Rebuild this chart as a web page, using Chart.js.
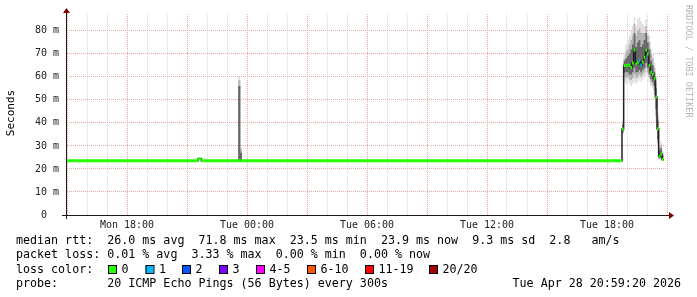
<!DOCTYPE html>
<html>
<head>
<meta charset="utf-8">
<script src="https://cdn.jsdelivr.net/npm/chart.js@4/dist/chart.umd.min.js"></script>
<style>
  html, body { margin: 0; padding: 0; background: #fff; }
  canvas { display: block; }
</style>
</head>
<body>
<canvas id="pingChart" width="697" height="297"></canvas>
<script>
// x axis is hours since Mon 15:00 (30 hours shown)
const tickHours = [3, 9, 15, 21, 27];
const tickLabels = ["Mon 18:00", "Tue 00:00", "Tue 06:00", "Tue 12:00", "Tue 18:00"];

// sample start hours; the long flat stretches are kept as one entry each
const sampleHours = [0, 6.55, 6.717, 8.56, 8.667, 8.75,
  27.75, 27.833, 27.917, 28, 28.083, 28.167, 28.25, 28.333, 28.417, 28.5, 28.583, 28.667, 28.75,
  28.833, 28.917, 29, 29.083, 29.167, 29.25, 29.333, 29.417, 29.5, 29.583, 29.667, 29.75];
const endHour = 29.833;

// median rtt in ms
const median = [23.6, 24.4, 23.6, 23.6, 23.6, 23.6,
  37.3, 64.9, 64.9, 65.2, 64.9, 64.1, 66.0, 71.6, 65.6, 66.3, 67.0, 65.2, 66.5,
  68.5, 71.6, 69.9, 64.9, 62.0, 61.0, 59.1, 51.2, 37.5, 25.5, 26.4, 24.1];
// index into lossColors for each sample
const lossIndex = [0, 0, 0, 0, 0, 0,
  0, 0, 0, 0, 0, 0, 0, 0, 0, 0, 1, 1, 0,
  0, 0, 0, 0, 0, 0, 0, 0, 0, 0, 0, 0];

// smoke (spread of the 20 pings), ms
const smokeMax = [23.9, 24.7, 23.9, 59.9, 29.3, 23.9,
  41, 70, 74, 76, 78, 80, 82, 86, 82, 85, 86, 84, 83, 82, 85, 80, 78, 72, 70, 66, 60, 45, 30, 32, 28];
const smokeMin = [23.3, 24.1, 23.3, 23.3, 23.3, 23.3,
  35, 58, 57, 58, 57, 56, 57, 58, 57, 58, 59, 58, 59, 60, 61, 60, 58, 56, 55, 52, 40, 30, 24, 24.5, 23.5];
const midHi = [23.9, 24.7, 23.9, 58.5, 28.5, 23.9,
  40, 68, 71, 72, 74, 76, 78, 83, 78, 80, 81, 79, 79, 79, 82, 78, 75, 70, 68, 64, 58, 43, 29, 30.5, 27];
const midLo = [23.3, 24.1, 23.3, 23.5, 23.5, 23.3,
  35.5, 60, 59.5, 60, 59, 58.5, 59.5, 61, 59.5, 60, 61, 60, 61, 62, 63.5, 62, 59.5, 57.5, 56.5, 54, 43, 31.5, 24.2, 24.8, 23.6];
const coreHi = [23.9, 24.7, 23.9, 56, 27, 23.9,
  39, 67, 68, 69, 70, 72, 74, 79, 73, 75, 76, 73, 74, 76, 79, 75, 72, 67, 65, 62, 55, 41, 28, 29, 26];
const coreLo = [23.3, 24.1, 23.3, 23.6, 23.6, 23.3,
  36, 62, 62, 62, 61, 61, 62, 64, 62, 62, 63, 62, 63, 64, 66, 64, 61, 59, 58, 56, 46, 33, 24.5, 25, 23.8];

const lossColors = ["#26ff00", "#00b8ff", "#0059ff", "#7e00ff", "#ff00ff", "#ff5500", "#ff0000", "#a10000"];
const lossLabels = ["0", "1", "2", "3", "4-5", "6-10", "11-19", "20/20"];

const legendLines = [
  "median rtt:  26.0 ms avg  71.8 ms max  23.5 ms min  23.9 ms now  9.3 ms sd  2.8   am/s",
  "packet loss: 0.01 % avg  3.33 % max  0.00 % min  0.00 % now",
  "loss color:",
  "probe:       20 ICMP Echo Pings (56 Bytes) every 300s"
];
const stampText = "Tue Apr 28 20:59:20 2026";

// each sample becomes a flat step: start point + end point
function steps(values) {
  const pts = [];
  values.forEach((v, i) => {
    const end = i + 1 < sampleHours.length ? sampleHours[i + 1] : endHour;
    pts.push({ x: sampleHours[i], y: v }, { x: end, y: v });
  });
  return pts;
}

function smokeBand(hi, lo, color, order) {
  return [
    { data: steps(hi), fill: "+1", backgroundColor: color, borderColor: "transparent", borderWidth: 0, pointRadius: 0, order: order },
    { data: steps(lo), fill: false, borderColor: "transparent", borderWidth: 0, pointRadius: 0, order: order + 1 }
  ];
}

const MONO = "'DejaVu Sans Mono', monospace";
const gridRed = "#eaa4a4";
const gridGray = "#d6d6d6";

const rrdDecor = {
  id: "rrdDecor",
  afterDraw(chart) {
    const { ctx, chartArea: a } = chart;
    ctx.save();
    // axes
    ctx.strokeStyle = "#1a1a1a";
    ctx.lineWidth = 1;
    ctx.beginPath();
    ctx.moveTo(62, a.bottom + 0.5);
    ctx.lineTo(a.right + 3, a.bottom + 0.5);
    ctx.moveTo(a.left - 0.5, a.bottom + 4);
    ctx.lineTo(a.left - 0.5, a.top - 2);
    ctx.stroke();
    // arrow heads
    ctx.fillStyle = "#7f0000";
    ctx.beginPath();
    ctx.moveTo(a.right + 2, a.bottom - 3);
    ctx.lineTo(a.right + 7, a.bottom + 0.5);
    ctx.lineTo(a.right + 2, a.bottom + 4);
    ctx.closePath();
    ctx.fill();
    ctx.beginPath();
    ctx.moveTo(a.left - 4, a.top - 1);
    ctx.lineTo(a.left - 0.5, a.top - 6);
    ctx.lineTo(a.left + 3, a.top - 1);
    ctx.closePath();
    ctx.fill();

    // y title
    ctx.fillStyle = "#000";
    ctx.font = "11px " + MONO;
    ctx.textAlign = "center";
    ctx.textBaseline = "middle";
    ctx.save();
    ctx.translate(11, 113);
    ctx.rotate(-Math.PI / 2);
    ctx.fillText("Seconds", 0, 0);
    ctx.restore();

    // watermark
    ctx.save();
    ctx.fillStyle = "#b4b4b4";
    ctx.font = "8.5px " + MONO;
    ctx.textAlign = "left";
    ctx.translate(688, 5);
    ctx.rotate(Math.PI / 2);
    ctx.fillText("RRDTOOL / TOBI OETIKER", 0, 0);
    ctx.restore();

    // legend text, sized so one character cell is 7px wide
    ctx.font = "11.6px " + MONO;
    const size = 11.6 * 7.02 / ctx.measureText("0").width;
    ctx.font = size.toFixed(2) + "px " + MONO;
    ctx.textAlign = "left";
    ctx.textBaseline = "alphabetic";
    ctx.fillStyle = "#000";
    const rows = [244, 258.3, 272.5, 286.7];
    legendLines.forEach((t, i) => ctx.fillText(t, 16, rows[i]));
    ctx.textAlign = "right";
    ctx.fillText(stampText, 681, rows[3]);

    // loss color boxes
    const boxX = [108, 145.5, 182, 219, 256, 307, 365, 429];
    ctx.textAlign = "left";
    lossColors.forEach((c, i) => {
      ctx.fillStyle = c;
      ctx.fillRect(boxX[i], 265.5, 8, 8);
      ctx.strokeStyle = "#000";
      ctx.strokeRect(boxX[i] + 0.5, 265.5, 8, 8);
      ctx.fillStyle = "#000";
      ctx.fillText(lossLabels[i], boxX[i] + 13.5, rows[2]);
    });
    ctx.restore();
  }
};

const ctx = document.getElementById("pingChart").getContext("2d");
new Chart(ctx, {
  type: "line",
  data: {
    datasets: [
      ...smokeBand(smokeMax, smokeMin, "#e0e0e0", 20),
      ...smokeBand(midHi, midLo, "#b4b4b4", 14),
      ...smokeBand(coreHi, coreLo, "#686868", 8),
      {
        data: steps(median),
        borderColor: "#202020",
        borderWidth: 1.5,
        pointRadius: 0,
        fill: false,
        order: 2
      },
      {
        data: steps(median),
        borderColor: lossColors[0],
        borderWidth: 3,
        pointRadius: 0,
        fill: false,
        order: 1,
        segment: {
          borderColor: (c) => (c.p0DataIndex % 2 ? "transparent" : lossColors[lossIndex[c.p0DataIndex / 2]])
        }
      }
    ]
  },
  options: {
    responsive: false,
    animation: false,
    devicePixelRatio: 1,
    layout: { padding: { top: 13, right: 30, left: 0, bottom: 0 } },
    plugins: { legend: { display: false }, tooltip: { enabled: false } },
    scales: {
      x: {
        type: "linear",
        min: 0,
        max: 30,
        afterFit: (s) => { s.height = 82; },
        border: { display: false, dash: [1, 1] },
        grid: {
          drawTicks: false,
          color: (c) => (c.tick.value % 3 === 0 ? gridRed : gridGray)
        },
        ticks: {
          stepSize: 1,
          autoSkip: false,
          maxRotation: 0,
          padding: 4,
          color: "#222",
          font: { family: MONO, size: 10 },
          callback: (v) => {
            const i = tickHours.indexOf(v);
            return i < 0 ? "" : tickLabels[i];
          }
        }
      },
      y: {
        min: 0,
        max: 87.3,
        afterFit: (s) => { s.width = 67; },
        border: { display: false, dash: [1, 1] },
        grid: {
          drawTicks: false,
          color: (c) => (c.tick.value % 10 === 0 ? gridRed : gridGray)
        },
        ticks: {
          stepSize: 5,
          includeBounds: false,
          padding: 8,
          color: "#222",
          font: { family: MONO, size: 10 },
          callback: (v) => (v % 10 ? "" : (v === 0 ? "0  " : v + " m"))
        }
      }
    }
  },
  plugins: [rrdDecor]
});
</script>
</body>
</html>
